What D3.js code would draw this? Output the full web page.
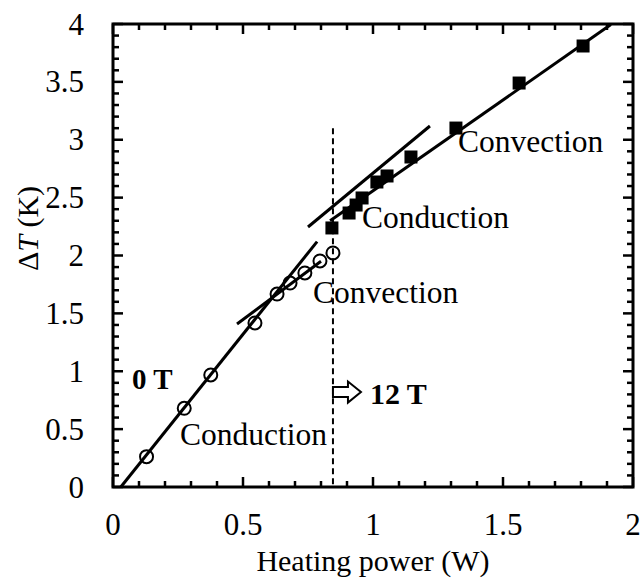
<!DOCTYPE html>
<html>
<head>
<meta charset="utf-8">
<script src="https://cdn.jsdelivr.net/npm/d3@7"></script>
<style>
  html, body { margin: 0; padding: 0; background: #fff; }
  svg { display: block; font-family: "Liberation Serif", "Times New Roman", serif; }
</style>
</head>
<body>
<svg id="chart" width="643" height="578"></svg>
<script>
// Measured temperature rise vs heating power, 0 T (open circles) and 12 T (filled squares)
const power0T = [0.129, 0.274, 0.376, 0.546, 0.631, 0.681, 0.738, 0.796, 0.846];
const deltaT0T = [0.262, 0.680, 0.968, 1.417, 1.667, 1.762, 1.849, 1.953, 2.022];

const power12T = [0.842, 0.908, 0.935, 0.958, 1.015, 1.054, 1.146, 1.319, 1.562, 1.808];
const deltaT12T = [2.238, 2.367, 2.436, 2.497, 2.635, 2.687, 2.851, 3.101, 3.490, 3.810];

// Linear fit segments: [x0, y0, x1, y1]
const fitSegments = [
  [0.030, 0.000, 0.785, 2.120],   // 0 T conduction
  [0.477, 1.408, 0.800, 1.950],   // 0 T convection
  [0.750, 2.246, 1.219, 3.119],   // 12 T conduction
  [0.835, 2.300, 1.915, 3.995]    // 12 T convection
];

// Field switch marker
const switchPower = 0.846;
const switchTop = 3.10;

const xTicks = [0, 0.5, 1, 1.5, 2];
const yTicks = [0, 0.5, 1, 1.5, 2, 2.5, 3, 3.5, 4];
const xTickLabels = ["0", "0.5", "1", "1.5", "2"];
const yTickLabels = ["0", "0.5", "1", "1.5", "2", "2.5", "3", "3.5", "4"];

const svg = d3.select("#chart");
const plotL = 113, plotR = 633, plotT = 24, plotB = 487;

const x = d3.scaleLinear().domain([0, 2]).range([plotL, plotR]);
const y = d3.scaleLinear().domain([0, 4]).range([plotB, plotT]);

const minorX = d3.range(0, 2.0001, 0.1);
const minorY = d3.range(0, 4.0001, 0.1);

// Ticks on all four sides, pointing inward
const tickG = svg.append("g").attr("stroke", "#000").attr("stroke-width", 2.5);
function isMajor(v) { return Math.abs(v * 2 - Math.round(v * 2)) < 1e-6; }
minorX.forEach(v => {
  const len = isMajor(v) ? 10 : 6;
  tickG.append("line").attr("x1", x(v)).attr("x2", x(v)).attr("y1", plotB).attr("y2", plotB - len);
  tickG.append("line").attr("x1", x(v)).attr("x2", x(v)).attr("y1", plotT).attr("y2", plotT + len);
});
minorY.forEach(v => {
  const len = isMajor(v) ? 10 : 6;
  tickG.append("line").attr("y1", y(v)).attr("y2", y(v)).attr("x1", plotL).attr("x2", plotL + len);
  tickG.append("line").attr("y1", y(v)).attr("y2", y(v)).attr("x1", plotR).attr("x2", plotR - len);
});

// Frame
svg.append("rect")
  .attr("x", plotL).attr("y", plotT)
  .attr("width", plotR - plotL).attr("height", plotB - plotT)
  .attr("fill", "none").attr("stroke", "#000").attr("stroke-width", 3);

// Tick labels
svg.append("g").selectAll("text").data(xTicks).join("text")
  .attr("x", d => x(d)).attr("y", 535)
  .attr("text-anchor", "middle").attr("font-size", 31)
  .text((d, i) => xTickLabels[i]);

svg.append("g").selectAll("text").data(yTicks).join("text")
  .attr("x", 84).attr("y", d => y(d) + 10.5)
  .attr("text-anchor", "end").attr("font-size", 31)
  .text((d, i) => yTickLabels[i]);

// Axis titles
svg.append("text")
  .attr("x", (plotL + plotR) / 2).attr("y", 571)
  .attr("text-anchor", "middle").attr("font-size", 30)
  .text("Heating power (W)");

const yTitle = svg.append("text")
  .attr("transform", "translate(38," + ((plotT + plotB) / 2 - 27) + ") rotate(-90)")
  .attr("text-anchor", "middle").attr("font-size", 30);
yTitle.append("tspan").text("\u0394");
yTitle.append("tspan").attr("font-style", "italic").text("T");
yTitle.append("tspan").text(" (K)");

// Dashed switch line
svg.append("line")
  .attr("x1", x(switchPower)).attr("x2", x(switchPower))
  .attr("y1", y(switchTop)).attr("y2", y(0))
  .attr("stroke", "#000").attr("stroke-width", 2)
  .attr("stroke-dasharray", "6,4");

// Fit lines
svg.append("g").selectAll("line").data(fitSegments).join("line")
  .attr("x1", d => x(d[0])).attr("y1", d => y(d[1]))
  .attr("x2", d => x(d[2])).attr("y2", d => y(d[3]))
  .attr("stroke", "#000").attr("stroke-width", 3).attr("stroke-linecap", "butt");

// 0 T data: open circles
svg.append("g").selectAll("circle").data(power0T).join("circle")
  .attr("cx", d => x(d)).attr("cy", (d, i) => y(deltaT0T[i]))
  .attr("r", 6.5).attr("fill", "none").attr("stroke", "#000").attr("stroke-width", 2);

// 12 T data: filled squares
const sq = 13;
svg.append("g").selectAll("rect").data(power12T).join("rect")
  .attr("x", d => x(d) - sq / 2).attr("y", (d, i) => y(deltaT12T[i]) - sq / 2)
  .attr("width", sq).attr("height", sq).attr("fill", "#000");

// Regime annotations
const notes = [
  { text: "Conduction", px: 0.258, py: 0.36 },
  { text: "Convection", px: 0.769, py: 1.59 },
  { text: "Conduction", px: 0.958, py: 2.24 },
  { text: "Convection", px: 1.327, py: 2.89 }
];
svg.append("g").selectAll("text").data(notes).join("text")
  .attr("x", d => x(d.px)).attr("y", d => y(d.py))
  .attr("font-size", 31.5).text(d => d.text);

svg.append("text")
  .attr("x", x(0.073)).attr("y", y(0.85))
  .attr("font-size", 29).attr("font-weight", "bold").text("0 T");

svg.append("text")
  .attr("x", x(0.988)).attr("y", y(0.72))
  .attr("font-size", 30).attr("font-weight", "bold").text("12 T");

// Hollow arrow pointing to the 12 T side
const ax = x(switchPower), ay = y(0.82);
const arrowPts = [
  [ax, ay - 5], [ax + 15, ay - 5], [ax + 15, ay - 10.5],
  [ax + 28, ay], [ax + 15, ay + 10.5], [ax + 15, ay + 5], [ax, ay + 5]
];
svg.append("path")
  .attr("d", d3.line()(arrowPts) + "Z")
  .attr("fill", "#fff").attr("stroke", "#000").attr("stroke-width", 2)
  .attr("stroke-linejoin", "miter");
</script>
</body>
</html>
